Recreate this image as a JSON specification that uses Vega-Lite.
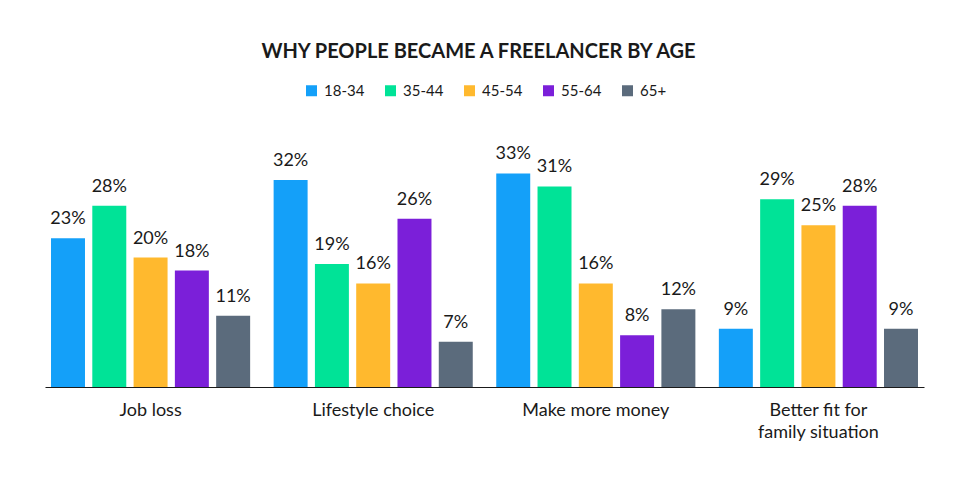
{
  "$schema": "https://vega.github.io/schema/vega-lite/v6.json",
  "width": 879,
  "height": 220,
  "autosize": "none",
  "padding": {"left": 45, "top": 167, "right": 47, "bottom": 98},
  "title": {
    "text": "WHY PEOPLE BECAME A FREELANCER BY AGE",
    "fontSize": 20,
    "fontWeight": "bold",
    "color": "#1a1a1a",
    "anchor": "middle",
    "dx": -6,
    "offset": 21
  },
  "data": {
    "values": [
      {"reason": "Job loss", "age": "18-34", "pct": 23},
      {"reason": "Job loss", "age": "35-44", "pct": 28},
      {"reason": "Job loss", "age": "45-54", "pct": 20},
      {"reason": "Job loss", "age": "55-64", "pct": 18},
      {"reason": "Job loss", "age": "65+", "pct": 11},
      {"reason": "Lifestyle choice", "age": "18-34", "pct": 32},
      {"reason": "Lifestyle choice", "age": "35-44", "pct": 19},
      {"reason": "Lifestyle choice", "age": "45-54", "pct": 16},
      {"reason": "Lifestyle choice", "age": "55-64", "pct": 26},
      {"reason": "Lifestyle choice", "age": "65+", "pct": 7},
      {"reason": "Make more money", "age": "18-34", "pct": 33},
      {"reason": "Make more money", "age": "35-44", "pct": 31},
      {"reason": "Make more money", "age": "45-54", "pct": 16},
      {"reason": "Make more money", "age": "55-64", "pct": 8},
      {"reason": "Make more money", "age": "65+", "pct": 12},
      {"reason": "Better fit for|family situation", "age": "18-34", "pct": 9},
      {"reason": "Better fit for|family situation", "age": "35-44", "pct": 29},
      {"reason": "Better fit for|family situation", "age": "45-54", "pct": 25},
      {"reason": "Better fit for|family situation", "age": "55-64", "pct": 28},
      {"reason": "Better fit for|family situation", "age": "65+", "pct": 9}
    ]
  },
  "transform": [
    {"calculate": "datum.pct + '%'", "as": "label"}
  ],
  "encoding": {
    "x": {
      "field": "reason",
      "type": "nominal",
      "sort": null,
      "scale": {"paddingInner": 0.1055, "paddingOuter": 0.027},
      "axis": {
        "title": null,
        "labelAngle": 0,
        "ticks": false,
        "labelPadding": 14,
        "labelFontSize": 18,
        "labelColor": "#1a1a1a",
        "labelLineHeight": 22,
        "labelExpr": "split(datum.label, '|')",
        "domainColor": "#1a1a1a",
        "domainWidth": 1.2
      }
    },
    "xOffset": {
      "field": "age",
      "type": "nominal",
      "sort": null,
      "scale": {"paddingInner": 0.177, "paddingOuter": 0}
    },
    "y": {
      "field": "pct",
      "type": "quantitative",
      "scale": {"domain": [0, 34]},
      "axis": null
    }
  },
  "layer": [
    {
      "mark": {"type": "bar"},
      "encoding": {
        "color": {
          "field": "age",
          "type": "nominal",
          "sort": null,
          "scale": {
            "domain": ["18-34", "35-44", "45-54", "55-64", "65+"],
            "range": ["#14a0f9", "#00e397", "#ffb92e", "#7b1fd9", "#5b6b7c"]
          },
          "legend": {
            "title": null,
            "orient": "none",
            "direction": "horizontal",
            "legendX": 259,
            "legendY": -84,
            "symbolType": "square",
            "symbolSize": 121,
            "symbolStrokeWidth": 0,
            "labelFontSize": 15,
            "labelColor": "#1a1a1a",
            "labelOffset": 5,
            "columnPadding": 18
          }
        }
      }
    },
    {
      "mark": {"type": "text", "baseline": "bottom", "dy": -10, "fontSize": 18, "color": "#1a1a1a"},
      "encoding": {
        "text": {"field": "label", "type": "nominal"}
      }
    }
  ],
  "config": {
    "font": "Lato",
    "view": {"stroke": null}
  }
}
